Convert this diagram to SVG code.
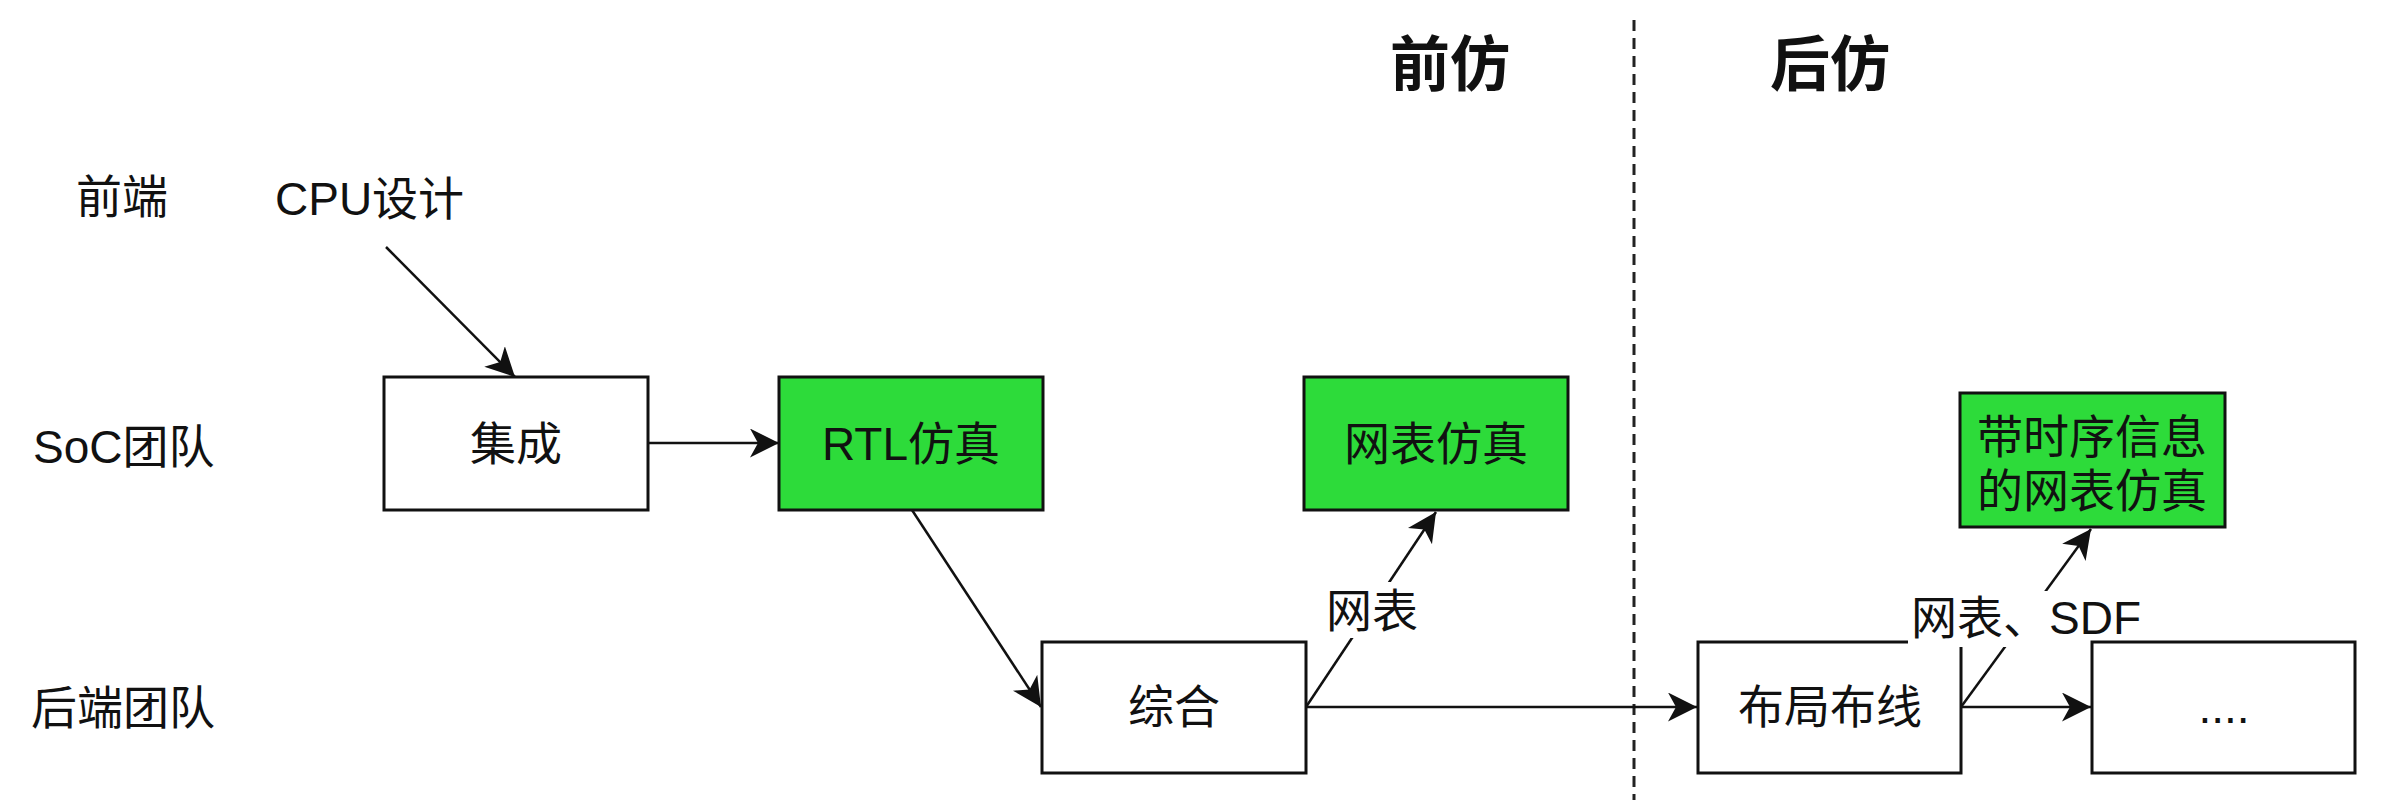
<svg xmlns="http://www.w3.org/2000/svg" width="2388" height="808" viewBox="0 0 2388 808">
<style>
text{font-family:"Liberation Sans","Noto Sans CJK SC",sans-serif;font-size:46px;fill:#111;dominant-baseline:central}
.c{text-anchor:middle}
.h{font-size:60px;font-weight:bold;text-anchor:middle}
.box{fill:#fff;stroke:#111;stroke-width:3}
.g{fill:#2ddb3a}
.ln{fill:none;stroke:#111;stroke-width:2.5}
.bg{fill:#fff}
</style>
<defs>
<marker id="ah" markerUnits="userSpaceOnUse" markerWidth="30" markerHeight="30" refX="29" refY="14.5" orient="auto" viewBox="0 0 30 30">
<path d="M0,0 L29,14.5 L0,29 L8,14.5 Z" fill="#111"/>
</marker>
</defs>
<rect width="2388" height="808" fill="#fff"/>
<line x1="1634" y1="20" x2="1634" y2="800" stroke="#222" stroke-width="3" stroke-dasharray="11 7"/>
<g id="lane-labels">
<text x="76" y="197">前端</text>
<text x="33" y="447">SoC团队</text>
<text x="31" y="708">后端团队</text>
<text x="275" y="199">CPU设计</text>
<text class="h" x="1450" y="65">前仿</text>
<text class="h" x="1830" y="65">后仿</text>
</g>
<g id="connectors">
<line class="ln" x1="386" y1="247" x2="515" y2="377" marker-end="url(#ah)"/>
<line class="ln" x1="648" y1="443" x2="779" y2="443" marker-end="url(#ah)"/>
<line class="ln" x1="912" y1="510" x2="1041" y2="707" marker-end="url(#ah)"/>
<line class="ln" x1="1306" y1="707" x2="1436" y2="512" marker-end="url(#ah)"/>
<line class="ln" x1="1306" y1="707" x2="1697" y2="707" marker-end="url(#ah)"/>
<line class="ln" x1="1961" y1="707" x2="2091" y2="707" marker-end="url(#ah)"/>
<line class="ln" x1="1961" y1="707" x2="2091" y2="529" marker-end="url(#ah)"/>
</g>
<g id="n-jicheng"><rect class="box" x="384" y="377" width="264" height="133"/><text class="c" x="516" y="444">集成</text></g>
<g id="n-rtl"><rect class="box g" x="779" y="377" width="264" height="133"/><text class="c" x="911" y="444">RTL仿真</text></g>
<g id="n-netsim"><rect class="box g" x="1304" y="377" width="264" height="133"/><text class="c" x="1436" y="444">网表仿真</text></g>
<g id="n-synth"><rect class="box" x="1042" y="642" width="264" height="131"/><text class="c" x="1174" y="707">综合</text></g>
<g id="n-pr"><rect class="box" x="1698" y="642" width="263" height="131"/><text class="c" x="1830" y="707">布局布线</text></g>
<g id="n-more"><rect class="box" x="2092" y="642" width="263" height="131"/><text class="c" x="2224" y="707">....</text></g>
<g id="n-timing"><rect class="box g" x="1960" y="393" width="265" height="134"/><text class="c" x="2092" y="437">带时序信息</text><text class="c" x="2092" y="491">的网表仿真</text></g>
<g id="edge-labels">
<rect class="bg" x="1324" y="582" width="96" height="56"/>
<text class="c" x="1372" y="611">网表</text>
<rect class="bg" x="1908" y="591" width="182" height="56"/>
<text class="c" x="2026" y="618">网表、SDF</text>
</g>
</svg>
